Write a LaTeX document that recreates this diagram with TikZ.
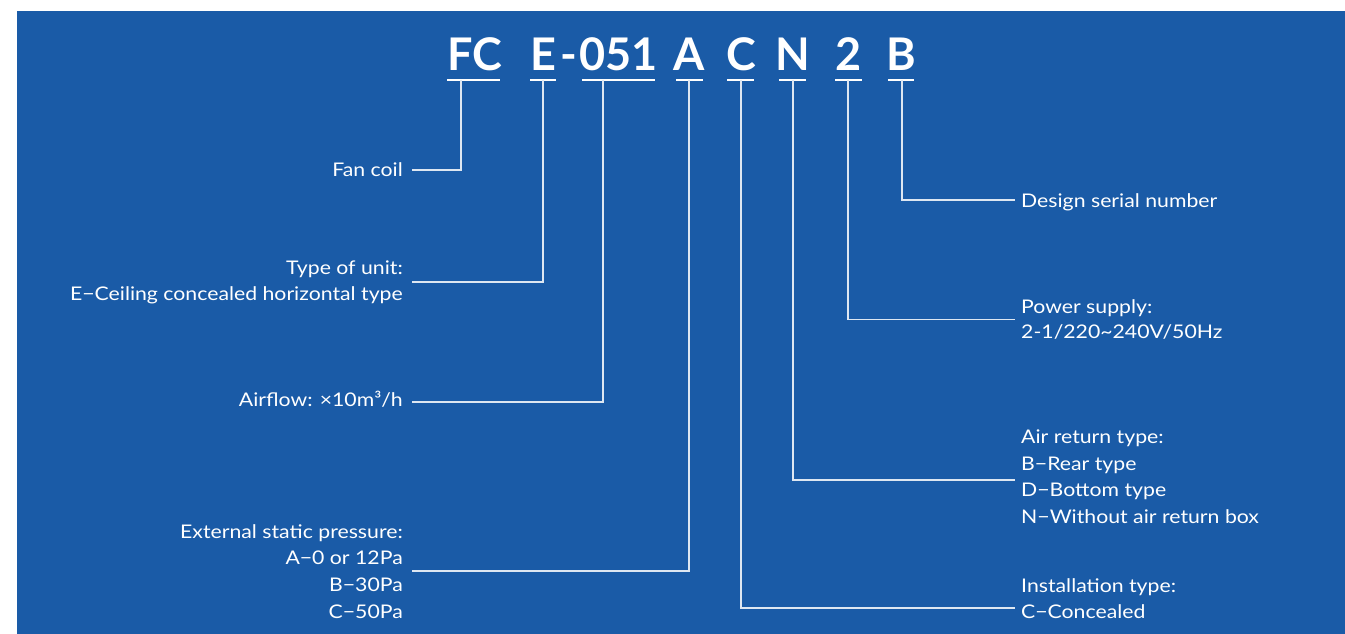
\documentclass[tikz,border=0pt]{standalone}
\usepackage{fontspec}
\setmainfont{Lato}
\newfontfamily\labelfont{Lato}[FakeStretch=1.13]
\newfontfamily\titlefont{Lato Bold}
\definecolor{bgblue}{RGB}{26,91,167}
\definecolor{linecol}{RGB}{222,231,242}
\begin{document}
\begin{tikzpicture}[x=1pt,y=-1pt,
  lbl/.style={font=\labelfont\fontsize{18.8}{22}\selectfont, text=white, inner sep=0pt},
  lft/.style={lbl, anchor=base east},
  rgt/.style={lbl, anchor=base west},
  ttl/.style={font=\titlefont\fontsize{45}{50}\selectfont, text=white, inner sep=0pt, anchor=base},
  conn/.style={draw=linecol, line width=1.4pt},
  ul/.style={draw=white, line width=2.2pt}]
\fill[white] (0,0) rectangle (1345,634);
\fill[bgblue] (17,11) rectangle (1345,634);
\useasboundingbox (0,0) rectangle (1345,634);
% title
\node[ttl] (tFC) at (474.5,71) {FC};
\node[ttl] (tE) at (543.5,71) {E};
\node[ttl] (tD) at (569,71) {-};
\node[ttl] (tN) at (618.5,71) {051};
\node[ttl] (tA) at (689.5,71) {A};
\node[ttl] (tC) at (741.5,71) {C};
\node[ttl] (tNN) at (792.5,71) {N};
\node[ttl] (t2) at (849,71) {2};
\node[ttl] (tB) at (901.5,71) {B};
% underlines
\draw[ul] (447,80) -- (500,80);
\draw[ul] (530,80) -- (556,80);
\draw[ul] (582,80) -- (655,80);
\draw[ul] (676,80) -- (703,80);
\draw[ul] (727,80) -- (754,80);
\draw[ul] (779,80) -- (806,80);
\draw[ul] (835,80) -- (862,80);
\draw[ul] (888,80) -- (914,80);
% connector start points
\coordinate (s1) at (461,80);
\coordinate (s2) at (543,80);
\coordinate (s3) at (603,80);
\coordinate (s4) at (689,80);
\coordinate (s5) at (741,80);
\coordinate (s6) at (793,80);
\coordinate (s7) at (848,80);
\coordinate (s8) at (902,80);
% connector end points
\coordinate (e1) at (412,170);
\coordinate (e2) at (412,282);
\coordinate (e3) at (412,402);
\coordinate (e4) at (412,571);
\coordinate (e5) at (1015,608);
\coordinate (e6) at (1015,480);
\coordinate (e7) at (1015,319.5);
\coordinate (e8) at (1015,200);
\foreach \i in {1,...,8} {\draw[conn] (s\i) |- (e\i);}
% left labels
\node[lft] (l1) at (403,176.5) {Fan coil};
\node[lft] (l2a) at (403,274.3) {Type of unit:};
\node[lft] (l2b) at (403,300.5) {E−Ceiling concealed horizontal type};
\node[lft] (l3) at (403,406.7) {Airflow: ×10m³/h};
\node[lft] (l4a) at (403,538) {External static pressure:};
\node[lft] (l4b) at (403,564.7) {A−0 or 12Pa};
\node[lft] (l4c) at (403,591.4) {B−30Pa};
\node[lft] (l4d) at (403,618.1) {C−50Pa};
% right labels
\node[rgt] (r8) at (1021,207.3) {Design serial number};
\node[rgt] (r7a) at (1021,313) {Power supply:};
\node[rgt] (r7b) at (1021,338.5) {2-1/220\textasciitilde240V/50Hz};
\node[rgt] (r6a) at (1021,443.3) {Air return type:};
\node[rgt] (r6b) at (1021,470) {B−Rear type};
\node[rgt] (r6c) at (1021,496.7) {D−Bottom type};
\node[rgt] (r6d) at (1021,523.3) {N−Without air return box};
\node[rgt] (r5a) at (1021,592.5) {Installation type:};
\node[rgt] (r5b) at (1021,618.5) {C−Concealed};
\end{tikzpicture}
\end{document}
